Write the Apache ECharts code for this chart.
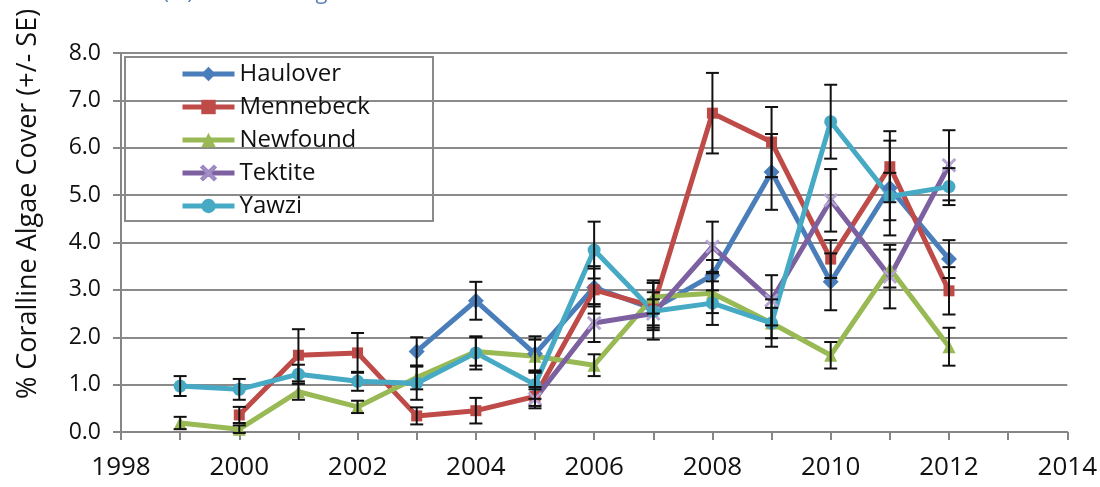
<!DOCTYPE html>
<html>
<head>
<meta charset="utf-8">
<script src="https://cdn.jsdelivr.net/npm/echarts@6/dist/echarts.min.js"></script>
<style>
  html, body { margin: 0; padding: 0; background: #ffffff; }
  #chart { width: 1100px; height: 487px; }
</style>
</head>
<body>
<div id="chart"></div>
<script>
// Survey years
const years = [1999, 2000, 2001, 2002, 2003, 2004, 2005, 2006, 2007, 2008, 2009, 2010, 2011, 2012];

// Mean coralline algae cover (%) per site
const haulover  = [null, null, null, null, 1.70, 2.77, 1.65, 3.05, 2.60, 3.31, 5.49, 3.17, 5.15, 3.65];
const mennebeck = [null, 0.36, 1.62, 1.67, 0.34, 0.45, 0.75, 3.00, 2.65, 6.73, 6.12, 3.65, 5.60, 2.98];
const newfound  = [0.19, 0.06, 0.85, 0.53, 1.15, 1.70, 1.60, 1.41, 2.85, 2.93, 2.30, 1.62, 3.45, 1.80];
const tektite   = [null, null, null, null, null, null, 0.70, 2.30, 2.50, 3.91, 2.78, 4.89, 3.28, 5.63];
const yawzi     = [0.97, 0.90, 1.22, 1.07, 1.03, 1.67, 1.00, 3.84, 2.55, 2.72, 2.30, 6.55, 4.97, 5.18];

// Standard errors per site
const hauloverSE  = [null, null, null, null, 0.30, 0.40, 0.37, 0.40, 0.35, 0.32, 0.80, 0.60, 1.00, 0.40];
const mennebeckSE = [null, 0.17, 0.55, 0.42, 0.18, 0.27, 0.20, 0.50, 0.50, 0.85, 0.74, 0.40, 0.75, 0.50];
const newfoundSE  = [0.13, 0.08, 0.17, 0.13, 0.25, 0.30, 0.35, 0.23, 0.35, 0.42, 0.32, 0.28, 0.40, 0.40];
const tektiteSE   = [null, null, null, null, null, null, 0.20, 0.40, 0.30, 0.53, 0.53, 0.66, 0.67, 0.74];
const yawziSE     = [0.21, 0.22, 0.20, 0.20, 0.35, 0.35, 0.30, 0.60, 0.60, 0.46, 0.50, 0.78, 0.50, 0.39];

// Axis ticks
const xTicks = [1998, 2000, 2002, 2004, 2006, 2008, 2010, 2012, 2014];
const yTicks = [0, 1, 2, 3, 4, 5, 6, 7, 8];

const FONT = '"Open Sans", "DejaVu Sans", sans-serif';
const X_SYMBOL = 'path://M0,1.2 L1.2,0 L5,3.8 L8.8,0 L10,1.2 L6.2,5 L10,8.8 L8.8,10 L5,6.2 L1.2,10 L0,8.8 L3.8,5 Z';

const sites = [
  { name: 'Haulover',  values: haulover,  se: hauloverSE,  color: '#4a7ebb', symbol: 'diamond',  size: 16 },
  { name: 'Mennebeck', values: mennebeck, se: mennebeckSE, color: '#be4b48', symbol: 'rect',     size: 11 },
  { name: 'Newfound',  values: newfound,  se: newfoundSE,  color: '#98b954', symbol: 'triangle', size: 13 },
  { name: 'Tektite',   values: tektite,   se: tektiteSE,   color: '#7d60a0', symbol: X_SYMBOL,   size: 14 },
  { name: 'Yawzi',     values: yawzi,     se: yawziSE,     color: '#46aac5', symbol: 'circle',   size: 13 }
];

function pairs(values) {
  const out = [];
  years.forEach((yr, i) => { if (values[i] != null) out.push([yr, values[i]]); });
  return out;
}

function errorData(values, se) {
  const out = [];
  years.forEach((yr, i) => {
    if (values[i] != null && se[i] != null) out.push([yr, values[i] - se[i], values[i] + se[i]]);
  });
  return out;
}

// Vertical whisker with caps
function renderErrorBar(params, api) {
  const x = api.value(0);
  const top = api.coord([x, api.value(2)]);
  const bot = api.coord([x, api.value(1)]);
  const half = 6.5;
  const style = { stroke: '#111111', lineWidth: 2 };
  return {
    type: 'group',
    children: [
      { type: 'line', shape: { x1: top[0], y1: top[1], x2: bot[0], y2: bot[1] }, style },
      { type: 'line', shape: { x1: top[0] - half, y1: top[1], x2: top[0] + half, y2: top[1] }, style },
      { type: 'line', shape: { x1: bot[0] - half, y1: bot[1], x2: bot[0] + half, y2: bot[1] }, style }
    ]
  };
}

const series = [];
sites.forEach((s) => {
  series.push({
    name: s.name,
    type: 'line',
    data: pairs(s.values),
    symbol: s.symbol,
    symbolSize: s.size,
    showAllSymbol: true,
    lineStyle: { color: s.color, width: 5 },
    itemStyle: s.symbol === X_SYMBOL
      ? { color: '#b9a8d6', borderColor: '#9c86c0', borderWidth: 0.5 }
      : { color: s.color },
    emphasis: { disabled: true },
    z: 3,
    animation: false
  });
});
sites.forEach((s) => {
  series.push({
    name: s.name + ' SE',
    type: 'custom',
    renderItem: renderErrorBar,
    data: errorData(s.values, s.se),
    encode: { x: 0, y: [1, 2] },
    z: 5,
    silent: true,
    animation: false
  });
});

const chart = echarts.init(document.getElementById('chart'), null, { renderer: 'canvas' });
chart.setOption({
  backgroundColor: '#ffffff',
  animation: false,
  grid: { left: 121, right: 32, top: 53, bottom: 55, containLabel: false },
  xAxis: {
    type: 'value',
    min: xTicks[0],
    max: xTicks[xTicks.length - 1],
    interval: 1,
    axisLine: { show: true, lineStyle: { color: '#868686', width: 2 } },
    axisTick: { show: true, length: 8, lineStyle: { color: '#868686', width: 2 } },
    splitLine: { show: false },
    axisLabel: {
      margin: 23,
      fontFamily: FONT,
      fontSize: 26,
      color: '#111111',
      formatter: (v) => (xTicks.indexOf(v) >= 0 ? String(v) : '')
    }
  },
  yAxis: {
    type: 'value',
    min: yTicks[0],
    max: yTicks[yTicks.length - 1],
    interval: 1,
    axisLine: { show: true, lineStyle: { color: '#868686', width: 2 } },
    axisTick: { show: true, length: 8, lineStyle: { color: '#868686', width: 2 } },
    splitLine: { show: true, lineStyle: { color: '#8a8a8a', width: 2 } },
    axisLabel: {
      margin: 20,
      fontFamily: FONT,
      fontSize: 23,
      color: '#111111',
      formatter: (v) => v.toFixed(1)
    }
  },
  legend: {
    orient: 'vertical',
    left: 180,
    top: 61,
    padding: 0,
    itemWidth: 52,
    itemHeight: 18,
    itemGap: 7,
    selectedMode: false,
    lineStyle: { width: 5 },
    data: sites.map((s) => s.name),
    textStyle: { fontFamily: FONT, fontSize: 24, color: '#111111', padding: [0, 0, 0, 0], lineHeight: 26 }
  },
  graphic: [
    {
      type: 'rect',
      shape: { x: 125, y: 57, width: 308, height: 164 },
      style: { fill: 'rgba(0,0,0,0)', stroke: '#8a8a8a', lineWidth: 2 },
      z: 1
    },
    {
      type: 'text',
      x: 28,
      y: 204,
      rotation: Math.PI / 2,
      style: {
        text: '% Coralline Algae Cover (+/- SE)',
        fontFamily: FONT,
        fontSize: 27,
        fill: '#111111',
        textAlign: 'center',
        textVerticalAlign: 'middle'
      }
    },
    {
      type: 'text',
      x: 78,
      y: 4,
      style: {
        text: 'Percent (%) Coralline Algae Cover',
        fontFamily: FONT,
        fontSize: 22,
        fill: '#5b80b8',
        textAlign: 'left',
        textVerticalAlign: 'bottom'
      }
    }
  ],
  series
});
</script>
</body>
</html>
